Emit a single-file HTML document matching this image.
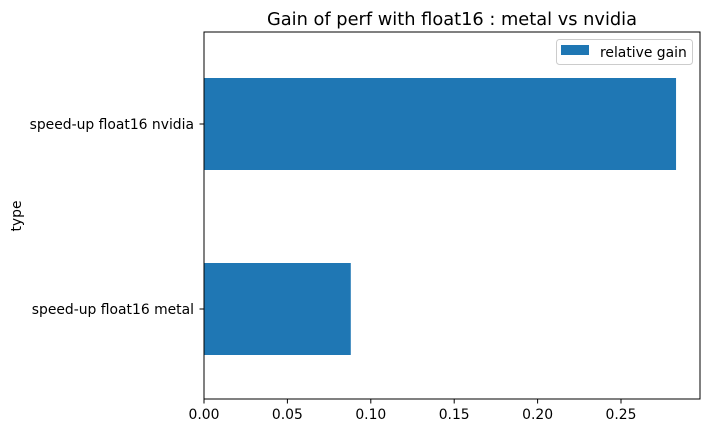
<!DOCTYPE html>
<html><head><meta charset="utf-8"><style>
body{margin:0;background:#fff;font-family:"DejaVu Sans","Liberation Sans",sans-serif;}
</style></head><body>
<svg width="709" height="435" xmlns="http://www.w3.org/2000/svg" font-family="DejaVu Sans, Liberation Sans, sans-serif">
<text x="452" y="25" font-size="17.8" text-anchor="middle" fill="#000">Gain of perf with float16 : metal vs nvidia</text>
<g id="bars"></g>
<g id="xticks"></g>
<g id="yticks"></g>
<rect x="204" y="32" width="496" height="367" fill="none" stroke="#000" stroke-width="1"/>
<text transform="translate(21,216) rotate(-90)" font-size="13.9" text-anchor="middle">type</text>
<g>
<rect x="556.5" y="39.5" width="136" height="25" rx="3" fill="#fff" stroke="#ccc"/>
<rect x="561" y="45" width="28" height="10" fill="#1f77b4"/>
<text x="600" y="57" font-size="13.9" fill="#000">relative gain</text>
</g>
</svg>
<script>
const categories = ["speed-up float16 metal", "speed-up float16 nvidia"];
const values = [0.088, 0.283];
const xTicks = [0, 0.05, 0.10, 0.15, 0.20, 0.25];
const xTickLabels = ["0.00","0.05","0.10","0.15","0.20","0.25"];
const NS="http://www.w3.org/2000/svg";
const x0=204, pxPerUnit=1668;
const xs=v=>x0+v*pxPerUnit;
const yc=i=>309-i*185;
const bh=92;
const bars=document.getElementById('bars');
values.forEach((v,i)=>{
  const r=document.createElementNS(NS,'rect');
  r.setAttribute('x',xs(0));r.setAttribute('y',yc(i)-bh/2);
  r.setAttribute('width',xs(v)-xs(0));r.setAttribute('height',bh);
  r.setAttribute('fill','#1f77b4');
  
  
  bars.appendChild(r);
});
const xt=document.getElementById('xticks');
xTicks.forEach((t,i)=>{
  const l=document.createElementNS(NS,'line');
  l.setAttribute('x1',xs(t));l.setAttribute('x2',xs(t));l.setAttribute('y1',399);l.setAttribute('y2',403.5);l.setAttribute('stroke','#000');
  
  
  xt.appendChild(l);
  const tx=document.createElementNS(NS,'text');
  tx.setAttribute('x',xs(t));tx.setAttribute('y',419);tx.setAttribute('font-size','13.9');tx.setAttribute('text-anchor','middle');
  tx.textContent=xTickLabels[i];
  
  
  xt.appendChild(tx);
});
const yt=document.getElementById('yticks');
categories.forEach((c,i)=>{
  const l=document.createElementNS(NS,'line');
  l.setAttribute('x1',199.5);l.setAttribute('x2',204);l.setAttribute('y1',yc(i));l.setAttribute('y2',yc(i));l.setAttribute('stroke','#000');
  
  
  yt.appendChild(l);
  const tx=document.createElementNS(NS,'text');
  tx.setAttribute('x',194);tx.setAttribute('y',yc(i)+5);tx.setAttribute('font-size','13.9');tx.setAttribute('text-anchor','end');
  tx.textContent=c;
  
  
  yt.appendChild(tx);
});
</script>
</body></html>
